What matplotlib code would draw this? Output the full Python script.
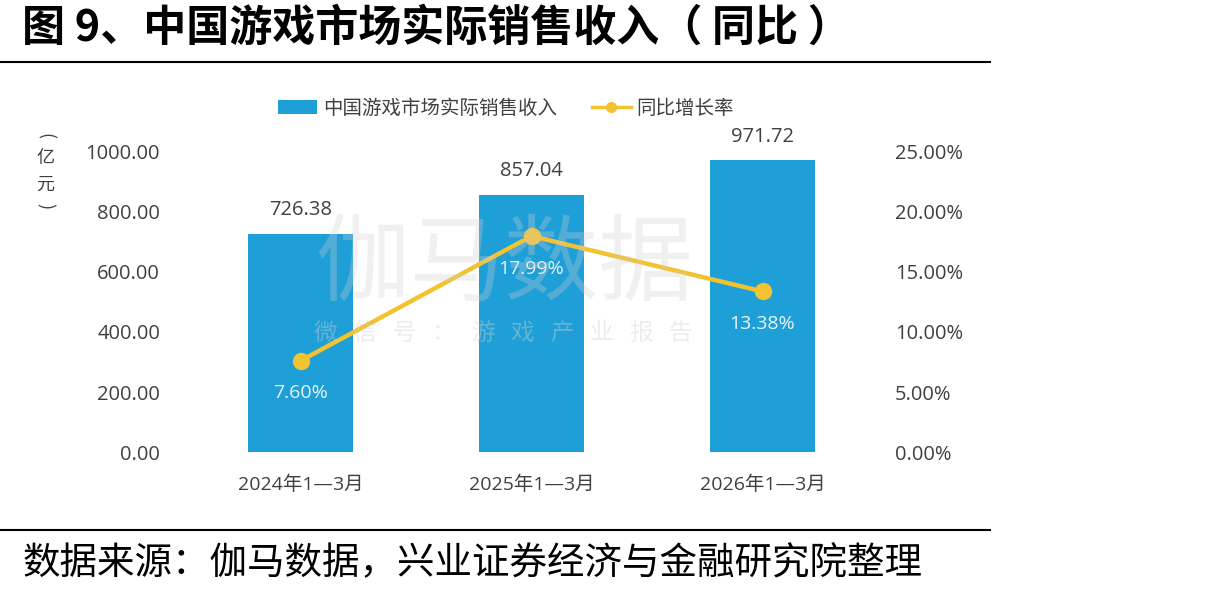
import numpy as np
import matplotlib
matplotlib.use("Agg")
from matplotlib import pyplot as plt
from matplotlib.lines import Line2D
from matplotlib.patches import Patch

plt.rcParams['font.family'] = ['Open Sans', 'Noto Sans CJK SC', 'DejaVu Sans']

categories = ['2024年1—3月', '2025年1—3月', '2026年1—3月']
revenue = [726.38, 857.04, 971.72]          # 亿元
yoy = [7.60, 17.99, 13.38]                  # %
rev_ticks = [0, 200, 400, 600, 800, 1000]
yoy_ticks = [0, 5, 10, 15, 20, 25]

bar_color = '#1E9FD8'
line_color = '#F2C230'
text_color = '#404040'
cjk = ['Noto Sans CJK SC', 'DejaVu Sans']

fig = plt.figure(figsize=(12.28, 5.96), dpi=100)
fig.patch.set_facecolor('white')

ax = fig.add_axes([0.1507, 0.2416, 0.5643, 0.5034])
x = np.arange(len(categories))
ax.bar(x, revenue, width=0.455, color=bar_color, zorder=2)
ax.set_xlim(-0.5, 2.5)
ax.set_ylim(0, 1000)
ax.set_yticks(rev_ticks)
ax.set_yticklabels(['%.2f' % v for v in rev_ticks])
ax.set_xticks(x)
ax.set_xticklabels(categories, fontsize=14)
ax.tick_params(axis='both', length=0, colors=text_color)
ax.tick_params(axis='y', pad=18, labelsize=14.5)
ax.tick_params(axis='x', pad=17)
for s in ax.spines.values():
    s.set_visible(False)
for xi, v in zip(x, revenue):
    ax.annotate('%.2f' % v, (xi, v), xytext=(0, 10), textcoords='offset points',
                ha='center', va='bottom', fontsize=14.5, color=text_color)

ax2 = ax.twinx()
ax2.plot(x, yoy, color=line_color, lw=3.2, marker='o', ms=11.5, zorder=3)
ax2.set_ylim(0, 25)
ax2.set_yticks(yoy_ticks)
ax2.set_yticklabels(['%.2f%%' % v for v in yoy_ticks])
ax2.tick_params(axis='y', length=0, labelsize=14.5, colors=text_color, pad=12)
for s in ax2.spines.values():
    s.set_visible(False)
for xi, v in zip(x, yoy):
    ax2.annotate('%.2f%%' % v, (xi, v), xytext=(0, -17), textcoords='offset points',
                 ha='center', va='top', fontsize=14, color='#EAF4FA')

# watermark
fig.text(0.411, 0.555, '伽马数据', fontsize=68, color='#D0D0D0', alpha=0.3,
         ha='center', va='center', family=cjk)
wm = '微信号：游戏产业报告'
for i, ch in enumerate(wm):
    fig.text((325 + i * 39.5) / 1228, 1 - 333 / 596, ch, fontsize=17, color='#D0D0D0',
             alpha=0.4, ha='center', va='center', family=cjk)

# unit label (vertical)
fig.text(45 / 1228, 1 - 136 / 596, '(', fontsize=13, color=text_color,
         ha='center', va='center', rotation=-90, family=cjk)
fig.text(45 / 1228, 1 - 158 / 596, '亿', fontsize=13, color=text_color,
         ha='center', va='center', family=cjk)
fig.text(45 / 1228, 1 - 185 / 596, '元', fontsize=13, color=text_color,
         ha='center', va='center', family=cjk)
fig.text(45 / 1228, 1 - 206 / 596, ')', fontsize=13, color=text_color,
         ha='center', va='center', rotation=-90, family=cjk)

handles = [Patch(facecolor=bar_color, edgecolor='none'),
           Line2D([0], [0], color=line_color, lw=2.5, marker='o', ms=7)]
fig.legend(handles, ['中国游戏市场实际销售收入', '同比增长率'], loc='center',
           bbox_to_anchor=(0.412, 0.818), ncol=2, frameon=False,
           prop={'family': cjk, 'size': 14},
           handlelength=2.0, columnspacing=1.8, handletextpad=0.3,
           labelcolor=text_color)

fig.text(0.018, 0.953, '图 9、中国游戏市场实际销售收入（ 同比 ）', fontsize=31,
         fontweight='bold', color='black', ha='left', va='center', family=cjk)
fig.add_artist(Line2D([0, 0.806], [0.896, 0.896], color='black', lw=1.5))
fig.add_artist(Line2D([0, 0.806], [0.111, 0.111], color='black', lw=1.5))
fig.text(0.018, 0.055, '数据来源：伽马数据，兴业证券经济与金融研究院整理', fontsize=27,
         color='black', ha='left', va='center', family=cjk)

fig.savefig('out.png', dpi=100)
